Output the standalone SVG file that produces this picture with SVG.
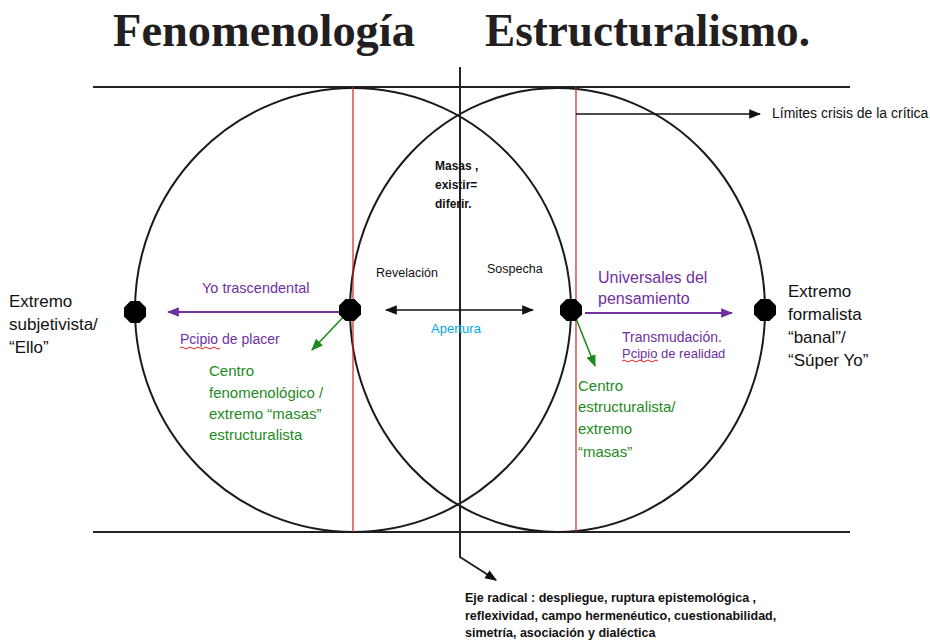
<svg xmlns="http://www.w3.org/2000/svg" width="930" height="641" viewBox="0 0 930 641">
<style>
.sans{font-family:"Liberation Sans",Arial,sans-serif}
.title{font-family:"Liberation Serif","Times New Roman",serif;font-weight:bold;font-size:46px;fill:#231f20}
.blk{fill:#111}
.pur{fill:#7030A0}
.grn{fill:#1E8A1E}
.ln{stroke:#222;stroke-width:2;fill:none}
.circ{stroke:#1a1a1a;stroke-width:2;fill:none}
.red{stroke:#D22020;stroke-width:1.2}
</style>
<defs>
<marker id="abk" viewBox="0 0 10 10" refX="9" refY="5" markerWidth="12" markerHeight="12" markerUnits="userSpaceOnUse" orient="auto-start-reverse"><path d="M0,1 L10,5 L0,9 z" fill="#111"/></marker>
<marker id="ap" viewBox="0 0 10 10" refX="9" refY="5" markerWidth="12" markerHeight="12" markerUnits="userSpaceOnUse" orient="auto"><path d="M0,1 L10,5 L0,9 z" fill="#7030A0"/></marker>
<marker id="ag" viewBox="0 0 10 10" refX="9" refY="5" markerWidth="12" markerHeight="12" markerUnits="userSpaceOnUse" orient="auto"><path d="M0,1 L10,5 L0,9 z" fill="#1E8A1E"/></marker>
<polygon id="oct" points="-4.5,-11 4.5,-11 11,-4.5 11,4.5 4.5,11 -4.5,11 -11,4.5 -11,-4.5" fill="#000"/>
</defs>
<rect width="930" height="641" fill="#fff"/>

<g id="titles">
<text class="title" x="113" y="46" textLength="302" lengthAdjust="spacingAndGlyphs">Fenomenología</text>
<text class="title" x="485" y="46" textLength="325" lengthAdjust="spacingAndGlyphs">Estructuralismo.</text>
</g>

<g id="frame">
<line class="ln" x1="93" y1="87" x2="850" y2="87"/>
<line class="ln" x1="93" y1="532" x2="850" y2="532"/>
<ellipse id="circle-left" class="circ" cx="353" cy="310" rx="218" ry="222"/>
<ellipse id="circle-right" class="circ" cx="557.5" cy="310" rx="207.5" ry="222"/>
<line class="red" x1="353" y1="87" x2="353" y2="532"/>
<line class="red" x1="576" y1="87" x2="576" y2="532"/>
</g>

<g id="connectors">
<polyline points="460,67 460,557 496,580" fill="none" stroke="#222" stroke-width="2" marker-end="url(#abk)"/>
<line x1="576" y1="114" x2="760" y2="114" stroke="#111" stroke-width="1.6" marker-end="url(#abk)"/>
<line x1="386" y1="310" x2="533" y2="310" stroke="#111" stroke-width="1.6" marker-start="url(#abk)" marker-end="url(#abk)"/>
<line x1="348" y1="312" x2="168" y2="312" stroke="#7030A0" stroke-width="1.8" marker-end="url(#ap)"/>
<line x1="585" y1="313" x2="732" y2="313" stroke="#7030A0" stroke-width="1.8" marker-end="url(#ap)"/>
<line x1="348" y1="312" x2="312" y2="350" stroke="#1E8A1E" stroke-width="1.6" marker-end="url(#ag)"/>
<line x1="575" y1="316" x2="595" y2="366" stroke="#1E8A1E" stroke-width="1.6" marker-end="url(#ag)"/>
</g>

<g id="dot-left"><use href="#oct" x="135" y="312"/></g>
<g id="dot-center-left"><use href="#oct" x="350" y="310"/></g>
<g id="dot-center-right"><use href="#oct" x="571" y="310"/></g>
<g id="dot-right"><use href="#oct" x="765" y="310"/></g>

<g id="extremo-subjetivista" class="sans blk" font-size="17">
<text x="9" y="307">Extremo</text>
<text x="9" y="330">subjetivista/</text>
<text x="9" y="353">“Ello”</text>
</g>

<g id="yo-trascendental" class="sans pur" font-size="14.5">
<text x="202" y="293">Yo trascendental</text>
</g>

<g id="pcipio-placer" class="sans pur" font-size="14">
<text x="180" y="344">Pcipio de placer</text>
<path d="M180,348 q2,-2 4,0 t4,0 t4,0 t4,0 t4,0 t4,0 t4,0 t4,0 t4,0 t4,0" fill="none" stroke="#E02020" stroke-width="1"/>
</g>

<g id="centro-fenomenologico" class="sans grn" font-size="15">
<text x="209" y="376">Centro</text>
<text x="209" y="398">fenomenológico /</text>
<text x="209" y="419">extremo “masas”</text>
<text x="209" y="440">estructuralista</text>
</g>

<g id="masas" class="sans blk" font-size="12" font-weight="bold">
<text x="435" y="170">Masas ,</text>
<text x="435" y="189">existir=</text>
<text x="435" y="208">diferir.</text>
</g>

<g id="revelacion" class="sans blk" font-size="12.5"><text x="376" y="277">Revelación</text></g>
<g id="sospecha" class="sans blk" font-size="12.5"><text x="487" y="273">Sospecha</text></g>
<g id="apertura" class="sans" font-size="13" fill="#00A8E8"><text x="431" y="333">Apertura</text></g>

<g id="universales" class="sans pur" font-size="16">
<text x="598" y="283">Universales del</text>
<text x="598" y="304">pensamiento</text>
</g>

<g id="transmudacion" class="sans pur">
<text x="622" y="342" font-size="14">Transmudación.</text>
<text x="622" y="358" font-size="13">Pcipio de realidad</text>
<path d="M622,361 q2,-2 4,0 t4,0 t4,0 t4,0 t4,0 t4,0 t4,0 t4,0 t4,0" fill="none" stroke="#E02020" stroke-width="1"/>
</g>

<g id="centro-estructuralista" class="sans grn" font-size="15">
<text x="578" y="391">Centro</text>
<text x="578" y="412">estructuralista/</text>
<text x="578" y="434">extremo</text>
<text x="578" y="457">“masas”</text>
</g>

<g id="extremo-formalista" class="sans blk" font-size="17">
<text x="788" y="297">Extremo</text>
<text x="788" y="320">formalista</text>
<text x="788" y="343">“banal”/</text>
<text x="788" y="366">“Súper Yo”</text>
</g>

<g id="limites" class="sans blk" font-size="14"><text x="772" y="118">Límites crisis de la crítica</text></g>

<g id="eje-radical" class="sans blk" font-size="12.5" font-weight="bold">
<text x="465" y="602">Eje radical : despliegue, ruptura epistemológica ,</text>
<text x="465" y="620">reflexividad, campo hermenéutico, cuestionabilidad,</text>
<text x="465" y="637">simetría, asociación y dialéctica</text>
</g>
</svg>
